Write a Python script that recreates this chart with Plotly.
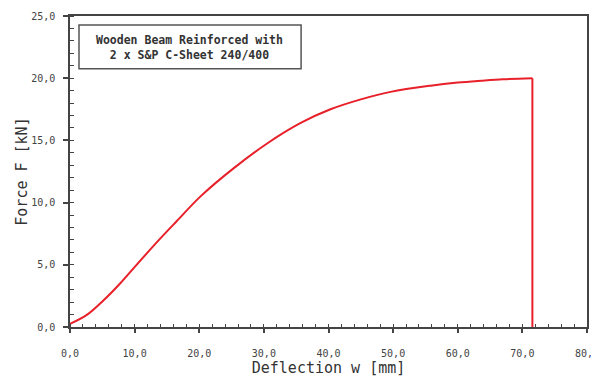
import plotly.graph_objects as go

deflection = [0.0, 2.6, 5.2, 7.75, 10.3, 13.95, 16.5, 20.2, 25.3, 30.5, 35.7, 40.3, 45.0, 49.6, 55.8, 60.0, 63.6, 67.0, 71.55, 71.55]
force = [0.25, 0.97, 2.15, 3.5, 5.0, 7.1, 8.5, 10.5, 12.75, 14.75, 16.4, 17.5, 18.3, 18.9, 19.4, 19.65, 19.8, 19.92, 20.0, 0.0]

x_ticks = [0, 10, 20, 30, 40, 50, 60, 70, 80]
x_labels = ["0,0", "10,0", "20,0", "30,0", "40,0", "50,0", "60,0", "70,0", "80,0"]
y_ticks = [0, 5, 10, 15, 20, 25]
y_labels = ["0,0", "5,0", "10,0", "15,0", "20,0", "25,0"]
box_lines = ["Wooden Beam Reinforced with", "2 x S&P C-Sheet 240/400"]

mono = "DejaVu Sans Mono"
red = "#e8202a"
fig = go.Figure()
# loading curve (smooth)
fig.add_trace(go.Scatter(x=deflection[:-1], y=force[:-1], mode="lines",
                         line=dict(color=red, width=2, shape="spline", smoothing=1.0),
                         showlegend=False))
# failure drop
fig.add_trace(go.Scatter(x=deflection[-2:], y=force[-2:], mode="lines",
                         line=dict(color=red, width=2), showlegend=False))

fig.update_layout(
    width=591, height=379,
    margin=dict(l=70, r=4, t=16, b=52, autoexpand=False),
    paper_bgcolor="white", plot_bgcolor="white",
    font=dict(family=mono, color="#333"),
)
fig.update_xaxes(
    range=[0, 80], tickvals=x_ticks, ticktext=x_labels,
    showgrid=False, zeroline=False,
    showline=True, linecolor="#444", linewidth=1.5, mirror=True,
    ticks="outside", ticklen=4, tickcolor="#444", tickwidth=1.5,
    ticklabelstandoff=12, ticklabeloverflow="allow",
    tickfont=dict(family=mono, size=10, color="#444"),
    minor=dict(dtick=2, ticks="inside", ticklen=3, tickcolor="#444", tickwidth=1.2, showgrid=False),
    title=dict(text="Deflection w [mm]", font=dict(family=mono, size=15, color="#333"), standoff=2),
)
fig.update_yaxes(
    range=[0, 25], tickvals=y_ticks, ticktext=y_labels,
    showgrid=False, zeroline=False,
    showline=True, linecolor="#444", linewidth=1.5, mirror=True,
    ticks="outside", ticklen=5, tickcolor="#444", tickwidth=1.5,
    ticklabelstandoff=6,
    tickfont=dict(family=mono, size=10, color="#444"),
    minor=dict(dtick=1, ticks="inside", ticklen=4, tickcolor="#444", tickwidth=1.2, showgrid=False),
    title=dict(text="Force F [kN]", font=dict(family=mono, size=15, color="#333"), standoff=0),
)

fig.add_shape(type="rect", xref="paper", yref="paper",
              x0=0.0174, x1=0.447, y0=0.830, y1=0.971,
              line=dict(color="#555", width=1.5), fillcolor="white", layer="below")
fig.add_annotation(xref="paper", yref="paper", x=0.232, y=0.900,
                   xanchor="center", yanchor="middle",
                   text="<br>".join("<b>" + t + "</b>" for t in box_lines),
                   showarrow=False, align="center",
                   font=dict(family=mono, size=11.5, color="#333"))

fig.write_html("out.html")
